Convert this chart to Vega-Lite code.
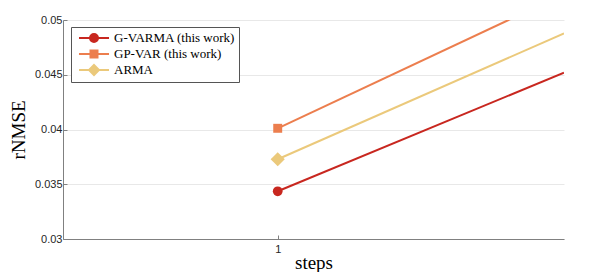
{
  "$schema": "https://vega.github.io/schema/vega-lite/v6.json",
  "width": 501,
  "height": 219,
  "autosize": "none",
  "padding": {"left": 63, "top": 20, "right": 34, "bottom": 33},
  "background": "white",
  "config": {
    "view": {"stroke": null},
    "legend": {
      "orient": "none",
      "legendX": 8,
      "legendY": 7,
      "padding": 3,
      "strokeColor": "#555555",
      "fillColor": "white",
      "cornerRadius": 0,
      "symbolSize": 196,
      "symbolStrokeWidth": 2,
      "symbolOpacity": 1,
      "labelOffset": 24,
      "labelFont": "Liberation Serif",
      "labelFontSize": 13,
      "labelFontWeight": "normal",
      "labelColor": "black",
      "rowPadding": -2.5,
      "title": null
    }
  },
  "data": {
    "values": [
      {"series": "G-VARMA (this work)", "step": 1, "value": 0.03436},
      {"series": "G-VARMA (this work)", "step": 2, "value": 0.04519},
      {"series": "GP-VAR (this work)", "step": 1, "value": 0.04011},
      {"series": "GP-VAR (this work)", "step": 2, "value": 0.05238},
      {"series": "ARMA", "step": 1, "value": 0.03728},
      {"series": "ARMA", "step": 2, "value": 0.04878}
    ]
  },
  "encoding": {
    "x": {
      "field": "step",
      "type": "quantitative",
      "scale": {"domain": [0.25, 2], "nice": false, "zero": false},
      "axis": {
        "values": [1],
        "grid": false,
        "title": "steps",
        "titleFont": "Liberation Serif",
        "titleFontSize": 19,
        "titleFontWeight": "normal",
        "titleColor": "black",
        "titlePadding": -1,
        "labelFont": "Liberation Sans",
        "labelFontSize": 11,
        "labelColor": "#262626",
        "labelPadding": 8,
        "domainColor": "#808080",
        "tickColor": "#808080",
        "tickSize": -4
      }
    },
    "y": {
      "field": "value",
      "type": "quantitative",
      "scale": {"domain": [0.03, 0.05], "nice": false, "zero": false},
      "axis": {
        "values": [0.03, 0.035, 0.04, 0.045, 0.05],
        "format": ".3~f",
        "grid": true,
        "gridColor": "#e8e8e8",
        "title": "rNMSE",
        "titleFont": "Liberation Serif",
        "titleFontSize": 19,
        "titleFontWeight": "normal",
        "titleColor": "black",
        "titlePadding": 6,
        "labelFont": "Liberation Sans",
        "labelFontSize": 11,
        "labelColor": "#262626",
        "labelPadding": 5,
        "domainColor": "#808080",
        "tickColor": "#808080",
        "tickSize": -4
      }
    }
  },
  "layer": [
    {
      "mark": {"type": "line", "strokeWidth": 2, "clip": true},
      "encoding": {
        "color": {
          "field": "series",
          "type": "nominal",
          "scale": {
            "domain": ["G-VARMA (this work)", "GP-VAR (this work)", "ARMA"],
            "range": ["#c8271f", "#ec7e4e", "#ebc97b"]
          },
          "legend": {
            "encode": {"labels": {"update": {"text": {"signal": "datum.label + '\u00a0\u00a0\u00a0\u00a0\u00a0'"}}}}
          }
        }
      }
    },
    {
      "transform": [{"filter": "datum.step == 1 && datum.series == 'G-VARMA (this work)'"}],
      "mark": {"type": "point", "filled": true, "opacity": 1, "shape": "circle", "size": 95, "color": "#c8271f"},
      "encoding": {}
    },
    {
      "transform": [{"filter": "datum.step == 1 && datum.series == 'GP-VAR (this work)'"}],
      "mark": {"type": "point", "filled": true, "opacity": 1, "shape": "square", "size": 80, "color": "#ec7e4e"},
      "encoding": {}
    },
    {
      "transform": [{"filter": "datum.step == 1 && datum.series == 'ARMA'"}],
      "mark": {"type": "point", "filled": true, "opacity": 1, "shape": "diamond", "size": 200, "color": "#ebc97b"},
      "encoding": {}
    },
    {
      "transform": [{"filter": "datum.step == 1"}],
      "mark": {"type": "point", "filled": true, "size": 0, "strokeWidth": 2},
      "encoding": {
        "color": {
          "field": "series",
          "type": "nominal",
          "legend": {
            "encode": {"labels": {"update": {"text": {"signal": "datum.label + '\u00a0\u00a0\u00a0\u00a0\u00a0'"}}}}
          }
        },
        "shape": {
          "field": "series",
          "type": "nominal",
          "scale": {
            "domain": ["G-VARMA (this work)", "GP-VAR (this work)", "ARMA"],
            "range": [
              "M-0.43,0H3.86M2.285,0A0.571,0.571,0,1,1,1.143,0A0.571,0.571,0,1,1,2.285,0Z",
              "M-0.43,0H3.86M1.214,-0.5H2.214V0.5H1.214Z",
              "M-0.43,0H3.86M1.714,-0.714L2.428,0L1.714,0.714L1,0Z"
            ]
          },
          "legend": {
            "encode": {"labels": {"update": {"text": {"signal": "datum.label + '\u00a0\u00a0\u00a0\u00a0\u00a0'"}}}}
          }
        }
      }
    }
  ]
}
